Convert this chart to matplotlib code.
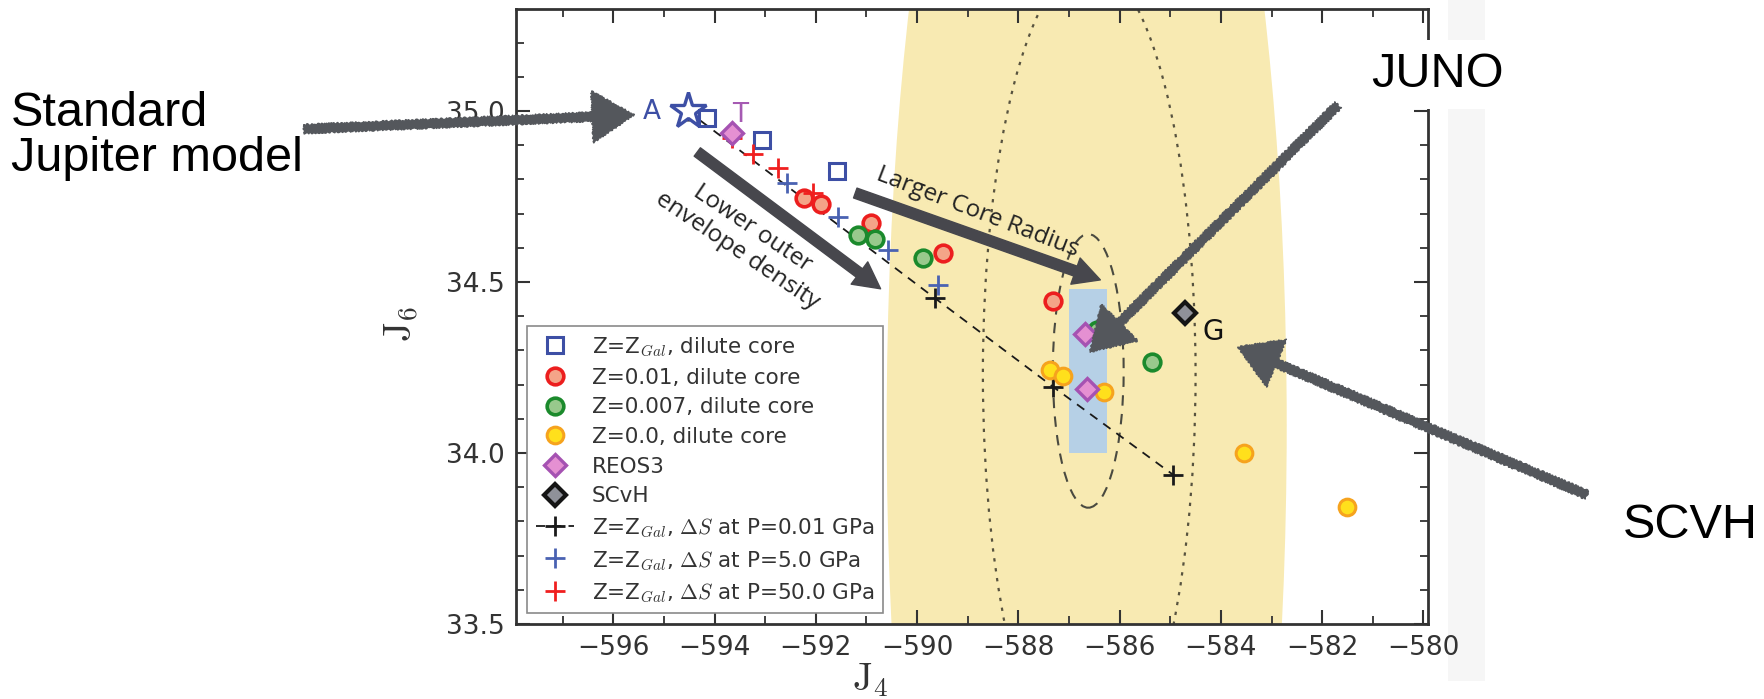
import matplotlib
matplotlib.use("Agg")
import matplotlib.pyplot as plt
from matplotlib.patches import Ellipse, Rectangle, FancyArrowPatch
from matplotlib.ticker import MultipleLocator

plt.rcParams['mathtext.fontset'] = 'cm'
plt.rcParams['font.family'] = ['DejaVu Sans']

# ---------------- data (J4, J6) ----------------
star_j4 = [-594.53]
star_j6 = [35.00]

zgal_sq_j4 = [-594.15, -593.06, -591.58]
zgal_sq_j6 = [34.980, 34.915, 34.825]

z001_j4 = [-592.23, -591.90, -590.91, -589.49, -587.31]
z001_j6 = [34.746, 34.728, 34.673, 34.585, 34.444]

z0007_j4 = [-591.16, -590.83, -589.88, -586.44, -585.36]
z0007_j6 = [34.637, 34.626, 34.570, 34.360, 34.266]

z00_j4 = [-587.37, -587.11, -586.30, -583.54, -581.51]
z00_j6 = [34.243, 34.225, 34.178, 34.000, 33.842]

reos3_j4 = [-593.66, -586.68, -586.64]
reos3_j6 = [34.936, 34.348, 34.187]

scvh_j4 = [-584.71]
scvh_j6 = [34.410]

ds001_j4 = [-594.53, -589.65, -587.31, -584.94]
ds001_j6 = [35.000, 34.453, 34.193, 33.936]

ds5_j4 = [-592.57, -591.56, -590.58, -589.59]
ds5_j6 = [34.790, 34.690, 34.594, 34.490]

ds50_j4 = [-593.66, -593.24, -592.75, -592.06]
ds50_j6 = [34.920, 34.874, 34.833, 34.760]

# Juno constraints: (center J4, center J6, width, height)
juno_wide = (-586.65, 34.08, 7.9, 5.3)
juno_dotted = (-586.6, 34.23, 4.2, 2.4)
juno_dashed = (-586.62, 34.24, 1.4, 0.80)
juno_box = (-587.0, 34.0, 0.75, 0.48)   # x0, y0, w, h

labels = ['Z=Z$_{Gal}$, dilute core', 'Z=0.01, dilute core', 'Z=0.007, dilute core',
          'Z=0.0, dilute core', 'REOS3', 'SCvH',
          'Z=Z$_{Gal}$, $\\Delta S$ at P=0.01 GPa',
          'Z=Z$_{Gal}$, $\\Delta S$ at P=5.0 GPa',
          'Z=Z$_{Gal}$, $\\Delta S$ at P=50.0 GPa']

xticks = [-596, -594, -592, -590, -588, -586, -584, -582, -580]
yticks = [33.5, 34.0, 34.5, 35.0]

W, H = 1764, 699
fig = plt.figure(figsize=(W / 100, H / 100), dpi=100)
ax = fig.add_axes([516 / W, 1 - 624 / H, 912 / W, 615 / H])

def fp(x, y):
    return (x / W, 1 - y / H)

# light strip on the right of the plot (behind everything)
fig.patches.append(Rectangle(fp(1448, 681), 37 / W, 681 / H, transform=fig.transFigure,
                             facecolor='#f6f6f6', edgecolor='none', zorder=-1))

# background regions
ax.add_patch(Ellipse(juno_wide[:2], juno_wide[2], juno_wide[3], facecolor='#f8eab2',
                     edgecolor='none', zorder=0))
ax.add_patch(Ellipse(juno_dotted[:2], juno_dotted[2], juno_dotted[3], facecolor='none',
                     edgecolor='#58533f', lw=1.6, linestyle=(0, (1.5, 3.0)), zorder=1))
ax.add_patch(Rectangle(juno_box[:2], juno_box[2], juno_box[3], facecolor='#b6d0e6',
                       edgecolor='none', zorder=1))
ax.add_patch(Ellipse(juno_dashed[:2], juno_dashed[2], juno_dashed[3], facecolor='none',
                     edgecolor='#4a4a40', lw=1.5, linestyle=(0, (5, 4)), zorder=1.5))

blue = '#3d4fa5'
h_sq, = ax.plot(zgal_sq_j4, zgal_sq_j6, 's', ms=12, mfc='none', mec=blue, mew=2.2,
                ls='none', zorder=4)
h_r, = ax.plot(z001_j4, z001_j6, 'o', ms=12, mfc='#f4a488', mec='#ec1e1e', mew=2.6,
               ls='none', zorder=4)
h_g, = ax.plot(z0007_j4, z0007_j6, 'o', ms=12, mfc='#98c98c', mec='#1b8a2c', mew=2.6,
               ls='none', zorder=4)
h_y, = ax.plot(z00_j4, z00_j6, 'o', ms=12, mfc='#ffe01c', mec='#f6a31e', mew=2.2,
               ls='none', zorder=4)
h_k, = ax.plot(ds001_j4, ds001_j6, '+', color='#1a1a1a', ms=14, mew=2, ls=(0, (5, 4)),
               lw=1.3, zorder=3)
h_b, = ax.plot(ds5_j4, ds5_j6, '+', color='#4a62b2', ms=14, mew=2, ls='none', zorder=5)
h_rp, = ax.plot(ds50_j4, ds50_j6, '+', color='#f01f1f', ms=14, mew=2, ls='none', zorder=5)
h_p, = ax.plot(reos3_j4, reos3_j6, 'D', ms=11, mfc='#e590d2', mec='#a552b2', mew=2.4,
               ls='none', zorder=6)
h_s, = ax.plot(scvh_j4, scvh_j6, 'D', ms=11, mfc='#8f9199', mec='#151515', mew=3,
               ls='none', zorder=6)
ax.plot(star_j4, star_j6, '*', ms=27, mfc='white', mec=blue, mew=2.4, ls='none', zorder=3.5)

ax.text(-595.24, 34.997, 'A', color=blue, fontsize=19, ha='center', va='center', zorder=7)
ax.text(-593.49, 34.988, 'T', color='#a55ab2', fontsize=19, ha='center', va='center', zorder=7)
ax.text(-584.15, 34.354, 'G', color='#111111', fontsize=20, ha='center', va='center', zorder=7)

# in-plot arrows
dark = '#47474d'
ax.annotate('', xy=(-590.72, 34.48), xytext=(-594.34, 34.88),
            arrowprops=dict(arrowstyle='simple,head_length=19,head_width=20,tail_width=7.5',
                            color=dark, shrinkA=0, shrinkB=0, mutation_scale=1), zorder=8)
ax.annotate('', xy=(-586.38, 34.506), xytext=(-591.22, 34.76),
            arrowprops=dict(arrowstyle='simple,head_length=19,head_width=20,tail_width=7.5',
                            color=dark, shrinkA=0, shrinkB=0, mutation_scale=1), zorder=8)
ax.text(-593.40, 34.625, 'Lower outer\nenvelope density', rotation=-34, rotation_mode='anchor',
        ha='center', va='center', multialignment='center', fontsize=17.5, family='Open Sans',
        color='#222222', linespacing=1.15, zorder=8)
ax.text(-588.80, 34.705, 'Larger Core Radius', rotation=-21, rotation_mode='anchor',
        ha='center', va='center', fontsize=17.5, family='Open Sans', color='#222222', zorder=8)

ax.set_xlim(-597.92, -579.91)
ax.set_ylim(33.5, 35.298)
ax.set_xticks(xticks)
ax.set_yticks(yticks)
ax.xaxis.set_minor_locator(MultipleLocator(1))
ax.yaxis.set_minor_locator(MultipleLocator(0.1))
ax.tick_params(which='both', direction='in', top=True, right=True, color='#333333',
               labelcolor='#333333', labelsize=19, pad=8)
ax.tick_params(which='major', length=10, width=1.5)
ax.tick_params(which='minor', length=6, width=1.3)
for s in ax.spines.values():
    s.set_color('#333333')
    s.set_linewidth(2)

ax.set_xlabel(r'$\mathrm{J}_4$', fontsize=28, color='#333333')
ax.set_ylabel(r'$\mathrm{J}_6$', fontsize=28, color='#333333')
ax.xaxis.set_label_coords(0.388, -0.06)
ax.yaxis.set_label_coords(-0.104, 0.488)

handles = [h_sq, h_r, h_g, h_y, h_p, h_s, h_k, h_b, h_rp]
leg = ax.legend(handles, labels, loc='lower left', bbox_to_anchor=(0.012, 0.018),
                borderaxespad=0, fontsize=15.5, labelspacing=0.45, handlelength=1.8,
                handletextpad=0.8, borderpad=0.4, fancybox=False, framealpha=1,
                edgecolor='#8a8a8a', numpoints=1)
leg.get_frame().set_linewidth(1.2)
for t in leg.get_texts():
    t.set_color('#333333')
leg.set_zorder(9)

# outside annotations
tfont = dict(family='Liberation Sans', fontsize=35, color='black')
fig.text(*fp(11, 126), 'Standard', ha='left', va='baseline', **tfont)
fig.text(*fp(11, 171), 'Jupiter model', ha='left', va='baseline', **tfont)
fig.text(*fp(1437, 87), 'JUNO', ha='center', va='baseline', zorder=5,
         bbox=dict(boxstyle='square,pad=0.25', facecolor='white', edgecolor='none'), **tfont)
fig.text(*fp(1690, 538), 'SCVH', ha='center', va='baseline', **tfont)

sketch = '#54575c'
for tail, tip in [((304, 129), (634, 115)), ((1338, 105), (1090, 352)),
                  ((1587, 495), (1238, 347))]:
    arr = FancyArrowPatch(fp(*tail), fp(*tip), transform=fig.transFigure,
                          arrowstyle='simple,head_length=30,head_width=37,tail_width=6.2',
                          mutation_scale=1, color=sketch, shrinkA=0, shrinkB=0, zorder=6)
    arr.set_sketch_params(scale=0.8, length=4, randomness=3)
    fig.add_artist(arr)

fig.savefig('out.png', dpi=100)
